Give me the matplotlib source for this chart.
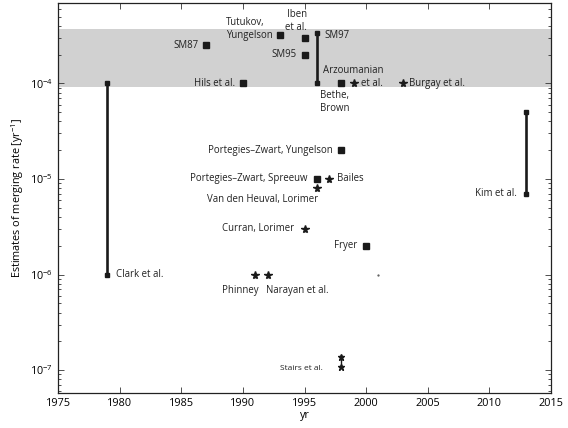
import matplotlib
matplotlib.use("Agg")
import matplotlib.pyplot as plt
from matplotlib.ticker import LogLocator, NullFormatter, FixedLocator

plt.rcParams['font.family'] = ['Open Sans', 'DejaVu Sans']
plt.rcParams['mathtext.fontset'] = 'custom'
plt.rcParams['mathtext.rm'] = 'Open Sans'

# ---- data ----
square_years = [1987, 1990, 1993, 1995, 1995, 1998, 1998, 1996, 2000]
square_rates = [2.5e-4, 1.0e-4, 3.2e-4, 3.0e-4, 2.0e-4, 1.0e-4, 2.0e-5, 1.0e-5, 2.0e-6]

star_years = [1999, 2003, 1997, 1996, 1995, 1991, 1992]
star_rates = [1.0e-4, 1.0e-4, 1.0e-5, 8.0e-6, 3.0e-6, 1.0e-6, 1.0e-6]

range_years = [1979, 1996, 2013]
range_low = [1.0e-6, 1.0e-4, 7.0e-6]
range_high = [1.0e-4, 3.4e-4, 5.0e-5]

stairs_year = 1998
stairs_low = 1.08e-7
stairs_high = 1.38e-7

dot_year = 2001
dot_rate = 1.0e-6

band_low = 9.1e-5
band_high = 3.7e-4

x_ticks = [1975, 1980, 1985, 1990, 1995, 2000, 2005, 2010, 2015]

# label text, anchor year, anchor rate
label_texts = ["SM87", "Hils et al.", "Tutukov,\nYungelson", "Iben\net al.", "SM95", "SM97",
               "Bethe,\nBrown", "Arzoumanian\net al.", "Burgay et al.",
               "Portegies\u2013Zwart, Yungelson", "Portegies\u2013Zwart, Spreeuw", "Bailes",
               "Van den Heuval, Lorimer", "Curran, Lorimer", "Fryer", "Clark et al.",
               "Phinney", "Narayan et al.", "Kim et al.", "Stairs et al."]
label_years = [1987, 1990, 1993, 1995, 1995, 1996, 1998, 1999, 2003,
               1998, 1996, 1997, 1996, 1995, 2000, 1979, 1991, 1992, 2013, 1998]
label_rates = [2.5e-4, 1e-4, 3.2e-4, 3.0e-4, 2e-4, 3.4e-4, 1e-4, 1e-4, 1e-4,
               2e-5, 1e-5, 1e-5, 8e-6, 3e-6, 2e-6, 1e-6, 1e-6, 1e-6, 7e-6, 1.08e-7]

# offsets (pixels) and alignment for the labels
offs = [(-7, 0, 'right', 'left'), (-8, 0, 'right', 'left'), (-7.5, 6, 'right', 'left'),
        (2.5, 17, 'right', 'right'), (-8, 0, 'right', 'left'), (8, -3, 'left', 'left'),
        (-21, -18.5, 'left', 'left'), (29.5, 6.5, 'right', 'right'), (6, 0, 'left', 'left'),
        (-9, 0, 'right', 'left'), (-9, 0, 'right', 'left'), (8, 0, 'left', 'left'),
        (1, -11, 'right', 'left'), (-10, 0, 'right', 'left'), (-9, 0, 'right', 'left'),
        (9, 0, 'left', 'left'), (3, -15.5, 'right', 'left'), (-2, -15.5, 'left', 'left'),
        (-9, 0, 'right', 'left'), (-19, -2, 'right', 'left')]

fig = plt.figure(figsize=(5.68, 4.28), dpi=100)
ax = fig.add_axes([58/568, 1 - 392.7/428, (551-58)/568, 390/428])

ax.set_yscale('log')
ax.set_xlim(1975, 2015)
ax.set_ylim(5.8e-8, 7.0e-4)

ax.axhspan(band_low, band_high, color='#d1d1d1', lw=0, zorder=0)

for yr, lo, hi in zip(range_years, range_low, range_high):
    ax.plot([yr, yr], [lo, hi], color='#1a1a1a', lw=1.9, marker='s', ms=3.2, zorder=3)

ax.plot([stairs_year, stairs_year], [stairs_low, stairs_high], color='#1a1a1a', lw=1.0,
        marker='*', ms=4.8, zorder=3)

ax.plot(square_years, square_rates, ls='none', marker='s', ms=4.3, color='#1a1a1a', zorder=3)
ax.plot(star_years, star_rates, ls='none', marker='*', ms=5.8, color='#1a1a1a', zorder=3)
ax.plot([dot_year], [dot_rate], ls='none', marker='.', ms=1.2, color='#555555', zorder=3)

for txt, xv, yv, (dx, dy, ha, ma) in zip(label_texts, label_years, label_rates, offs):
    fs = 6.0 if txt == "Stairs et al." else 6.9
    ax.annotate(txt, (xv, yv), xytext=(dx, dy), textcoords='offset pixels',
                ha=ha, va='center', multialignment=ma, fontsize=fs, color='#222222',
                linespacing=1.2)

ax.xaxis.set_major_locator(FixedLocator(x_ticks))
ax.set_xticklabels([str(t) for t in x_ticks])
ax.yaxis.set_major_locator(LogLocator(base=10, numticks=20))
ax.yaxis.set_minor_locator(LogLocator(base=10, subs=range(2, 10), numticks=20))
ax.yaxis.set_minor_formatter(NullFormatter())

ax.tick_params(which='both', direction='in', top=True, right=True, labelsize=7.8,
               color='#333333', width=0.6)
ax.tick_params(which='major', length=4)
ax.tick_params(which='minor', length=2.2)
for s in ax.spines.values():
    s.set_linewidth(0.9)
    s.set_color('#222222')

ax.set_xlabel('yr', fontsize=7.8, labelpad=1)
ax.set_ylabel('Estimates of merging rate [yr$^{-1}$]', fontsize=7.8, labelpad=3)

fig.savefig('out.png', dpi=100)
